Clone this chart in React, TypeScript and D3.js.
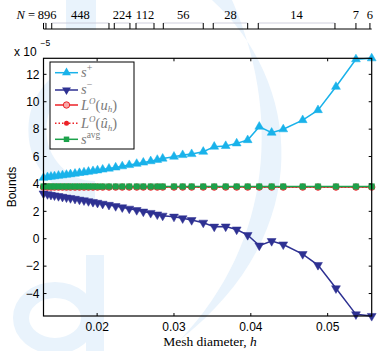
import * as d3 from "d3"

// mesh diameters (x) and the bound values (units of 1e-5)
const hVals = [0.01302, 0.01354, 0.01399, 0.01445, 0.01497, 0.01549, 0.01601, 0.01653, 0.01712, 0.0177, 0.01829, 0.01887, 0.01946, 0.02005, 0.02072, 0.02154, 0.02241, 0.02327, 0.02418, 0.02515, 0.02601, 0.02697, 0.02783, 0.02853, 0.03, 0.03113, 0.0323, 0.03381, 0.03524, 0.03673, 0.03816, 0.03959, 0.0411, 0.04271, 0.04422, 0.04675, 0.04874, 0.05108, 0.05368, 0.05573]
const sPlus = [4.45, 4.5, 4.53, 4.56, 4.6, 4.63, 4.67, 4.71, 4.75, 4.8, 4.84, 4.89, 4.94, 4.99, 5.05, 5.12, 5.2, 5.29, 5.38, 5.47, 5.56, 5.66, 5.76, 5.85, 5.99, 6.11, 6.18, 6.35, 6.72, 6.77, 6.96, 7.2, 8.18, 7.74, 7.99, 8.66, 9.39, 11.09, 13.1, 13.17]
const sMinus = [3.3, 3.25, 3.2, 3.16, 3.11, 3.06, 3.01, 2.96, 2.91, 2.85, 2.8, 2.74, 2.68, 2.62, 2.55, 2.47, 2.38, 2.29, 2.19, 2.09, 1.98, 1.88, 1.77, 1.68, 1.61, 1.49, 1.36, 1.17, 0.88, 0.89, 0.67, 0.27, -0.5, -0.17, -0.42, -1.12, -1.92, -3.62, -5.52, -5.64]
const lU = [3.77, 3.77, 3.77, 3.77, 3.77, 3.77, 3.77, 3.77, 3.77, 3.77, 3.77, 3.77, 3.77, 3.77, 3.77, 3.77, 3.77, 3.77, 3.77, 3.77, 3.77, 3.77, 3.77, 3.77, 3.77, 3.77, 3.77, 3.77, 3.77, 3.77, 3.77, 3.77, 3.77, 3.77, 3.77, 3.77, 3.77, 3.77, 3.77, 3.77]
const lUhat = [3.76, 3.76, 3.76, 3.76, 3.76, 3.76, 3.76, 3.76, 3.76, 3.76, 3.76, 3.76, 3.76, 3.76, 3.76, 3.76, 3.76, 3.76, 3.76, 3.76, 3.76, 3.76, 3.76, 3.76, 3.76, 3.76, 3.76, 3.76, 3.76, 3.76, 3.76, 3.76, 3.76, 3.76, 3.76, 3.76, 3.76, 3.76, 3.76, 3.76]
const sAvg = [3.82, 3.82, 3.82, 3.82, 3.82, 3.82, 3.82, 3.82, 3.82, 3.82, 3.82, 3.82, 3.82, 3.82, 3.82, 3.82, 3.82, 3.82, 3.82, 3.82, 3.82, 3.82, 3.82, 3.82, 3.82, 3.82, 3.82, 3.82, 3.82, 3.82, 3.82, 3.82, 3.82, 3.82, 3.82, 3.82, 3.82, 3.82, 3.82, 3.82]

const xTicks = [0.02, 0.03, 0.04, 0.05]
const yTicks = [-4, -2, 0, 2, 4, 6, 8, 10, 12]

// top axis: number of elements N, grouped by h range
const groupN = ["896", "448", "224", "112", "56", "28", "14", "7", "6"]
const groupHmin = [0.01302, 0.01409, 0.02223, 0.02506, 0.02861, 0.03511, 0.04097, 0.05368, 0.0555]
const groupHmax = [0.01334, 0.02154, 0.02427, 0.0274, 0.03381, 0.03959, 0.05095, 0.05368, 0.0555]

const W = 378
const H = 351
const m = { left: 43.5, right: 371.7, top: 58.3, bottom: 316 }

const C_PLUS = "#19b2ea"
const C_MINUS = "#2e3192"
const C_RED = "#ec2227"
const C_GREEN = "#1ca24b"
const C_WM = "#e9f3fc"

const sans = "'Liberation Sans', Arial, sans-serif"
const serif = "'Liberation Serif', 'Times New Roman', serif"

export default function App() {
  const x = d3.scaleLinear().domain(d3.extent(hVals) as [number, number]).range([m.left, m.right])
  const allY = [...sPlus, ...sMinus]
  const y = d3.scaleLinear().domain(d3.extent(allY) as [number, number]).range([m.bottom, m.top])

  const line = (vals: number[]) =>
    d3.line<number>().x((_, i) => x(hVals[i])).y((d) => y(d))(vals) as string

  const tri = d3.symbol().type(d3.symbolTriangle).size(34)() as string
  const square = d3.symbol().type(d3.symbolSquare).size(30)() as string

  const topY = 29
  const tickLen = 3

  return (
    <svg width={W} height={H} style={{ position: "absolute", left: 0, top: 0, background: "#fff" }}>
      {/* faint watermark in the background */}
      <g fill={C_WM} stroke="none">
        <path d="M212 0 C300 80 320 230 180 340 C275 240 280 110 232 0 Z" />
        <path d="M95 70 A48 50 0 1 0 95 190" fill="none" stroke={C_WM} strokeWidth={18} />
        <ellipse cx={55} cy={318} rx={34} ry={28} fill="none" stroke={C_WM} strokeWidth={16} />
        <rect x={86} y={255} width={18} height={96} />
        <rect x={66} y={0} width={30} height={30} />
      </g>

      {/* top N axis */}
      <text x={35} y={18.5} fontFamily={serif} fontSize={12.5} textAnchor="end">
        <tspan fontStyle="italic">N</tspan> =
      </text>
      <line x1={m.left} x2={m.right} y1={topY} y2={topY} stroke="#000" strokeWidth={1} />
      {groupN.map((n, i) => {
        const a = x(groupHmin[i])
        const b = x(groupHmax[i])
        return (
          <g key={n}>
            {b - a > 1 && <line x1={a} x2={b} y1={topY - 6} y2={topY - 6} stroke="#c4c4d4" strokeWidth={0.8} />}
            <line x1={a} x2={a} y1={topY} y2={topY - 6} stroke="#000" strokeWidth={1} />
            {b - a > 1 && <line x1={b} x2={b} y1={topY} y2={topY - 6} stroke="#000" strokeWidth={1} />}
            <text x={Math.max((a + b) / 2, 47)} y={18.5} fontFamily={serif} fontSize={12.5} textAnchor="middle">
              {n}
            </text>
          </g>
        )
      })}

      {/* exponent */}
      <text x={14} y={56} fontFamily={sans} fontSize={12}>x 10</text>
      <text x={40.5} y={46} fontFamily={sans} fontSize={8.5}>−5</text>

      {/* series */}
      <g clipPath="url(#clipAll)">
        <path d={line(sPlus)} fill="none" stroke={C_PLUS} strokeWidth={1.5} />
        {sPlus.map((d, i) => (
          <path key={i} d={tri} transform={`translate(${x(hVals[i])},${y(d)})`} fill={C_PLUS} stroke={C_PLUS} strokeWidth={0.5} />
        ))}
        <path d={line(sMinus)} fill="none" stroke={C_MINUS} strokeWidth={1.5} />
        {sMinus.map((d, i) => (
          <path key={i} d={tri} transform={`translate(${x(hVals[i])},${y(d)}) rotate(180)`} fill={C_MINUS} stroke={C_MINUS} strokeWidth={0.5} />
        ))}
        <path d={line(lU)} fill="none" stroke={C_RED} strokeWidth={1.5} />
        {lU.map((d, i) => (
          <circle key={i} cx={x(hVals[i])} cy={y(d)} r={3.2} fill="#f7a9a9" stroke={C_RED} strokeWidth={1} />
        ))}
        <path d={line(lUhat)} fill="none" stroke={C_RED} strokeWidth={1.5} strokeDasharray="1.5 2" />
        {lUhat.map((d, i) => (
          <circle key={i} cx={x(hVals[i])} cy={y(d)} r={2.5} fill={C_RED} />
        ))}
        <path d={line(sAvg)} fill="none" stroke={C_GREEN} strokeWidth={1.5} />
        {sAvg.map((d, i) => (
          <path key={i} d={square} transform={`translate(${x(hVals[i])},${y(d)})`} fill={C_GREEN} stroke={C_GREEN} strokeWidth={0.5} />
        ))}
      </g>

      {/* box + ticks */}
      <rect x={m.left} y={m.top} width={m.right - m.left} height={m.bottom - m.top} fill="none" stroke="#000" strokeWidth={1.2} />
      {xTicks.map((t) => (
        <g key={t}>
          <line x1={x(t)} x2={x(t)} y1={m.bottom} y2={m.bottom - tickLen} stroke="#000" />
          <line x1={x(t)} x2={x(t)} y1={m.top} y2={m.top + tickLen} stroke="#000" />
          <text x={x(t)} y={331} fontFamily={sans} fontSize={12} textAnchor="middle">
            {d3.format(".2f")(t)}
          </text>
        </g>
      ))}
      {yTicks.map((t) => (
        <g key={t}>
          <line x1={m.left} x2={m.left + tickLen} y1={y(t)} y2={y(t)} stroke="#000" />
          <line x1={m.right} x2={m.right - tickLen} y1={y(t)} y2={y(t)} stroke="#000" />
          <text x={m.left - 4} y={y(t) + 4.3} fontFamily={sans} fontSize={12} textAnchor="end">
            {t < 0 ? `−${-t}` : t}
          </text>
        </g>
      ))}

      {/* axis labels */}
      <text x={210} y={346} fontFamily={serif} fontSize={13.5} textAnchor="middle">
        Mesh diameter, <tspan fontStyle="italic">h</tspan>
      </text>
      <text transform="translate(16,187) rotate(-90)" fontFamily={sans} fontSize={12} textAnchor="middle">
        Bounds
      </text>

      {/* legend */}
      <g>
        <rect x={50} y={62} width={84} height={87} fill="#fff" stroke="#000" strokeWidth={1} />
        <line x1={55} x2={78} y1={72.7} y2={72.7} stroke={C_PLUS} strokeWidth={1.5} />
        <path d={tri} transform="translate(66.5,72.7)" fill={C_PLUS} />
        <line x1={55} x2={78} y1={90} y2={90} stroke={C_MINUS} strokeWidth={1.5} />
        <path d={tri} transform="translate(66.5,90) rotate(180)" fill={C_MINUS} />
        <line x1={55} x2={78} y1={105} y2={105} stroke={C_RED} strokeWidth={1.5} />
        <circle cx={66.5} cy={105} r={3.2} fill="#f7a9a9" stroke={C_RED} />
        <line x1={55} x2={78} y1={123.3} y2={123.3} stroke={C_RED} strokeWidth={1.5} strokeDasharray="1.5 2" />
        <circle cx={66.5} cy={123.3} r={2.5} fill={C_RED} />
        <line x1={55} x2={78} y1={139.3} y2={139.3} stroke={C_GREEN} strokeWidth={1.5} />
        <path d={square} transform="translate(66.5,139.3)" fill={C_GREEN} />
        <g fontFamily={serif} fontSize={14.5} fill="#7a7a7a">
          <text x={81} y={77}>
            <tspan fontStyle="italic">s</tspan>
            <tspan fontSize={10} dy={-6}>+</tspan>
          </text>
          <text x={81} y={94}>
            <tspan fontStyle="italic">s</tspan>
            <tspan fontSize={10} dy={-6}>−</tspan>
          </text>
          <text x={81} y={109.5}>
            <tspan fontStyle="italic">L</tspan>
            <tspan fontSize={9} dy={-6} fontStyle="italic">O</tspan>
            <tspan dy={6}>(</tspan>
            <tspan fontStyle="italic">u</tspan>
            <tspan fontSize={9} dy={2.5} fontStyle="italic">h</tspan>
            <tspan dy={-2.5}>)</tspan>
          </text>
          <text x={81} y={128}>
            <tspan fontStyle="italic">L</tspan>
            <tspan fontSize={9} dy={-6} fontStyle="italic">O</tspan>
            <tspan dy={6}>(</tspan>
            <tspan fontStyle="italic">û</tspan>
            <tspan fontSize={9} dy={2.5} fontStyle="italic">h</tspan>
            <tspan dy={-2.5}>)</tspan>
          </text>
          <text x={81} y={144}>
            <tspan fontStyle="italic">s</tspan>
            <tspan fontSize={9.5} dy={-6}>avg</tspan>
          </text>
        </g>
      </g>
      <defs>
        <clipPath id="clipAll">
          <rect x={m.left - 6} y={m.top - 6} width={m.right - m.left + 12} height={m.bottom - m.top + 12} />
        </clipPath>
      </defs>
    </svg>
  )
}
